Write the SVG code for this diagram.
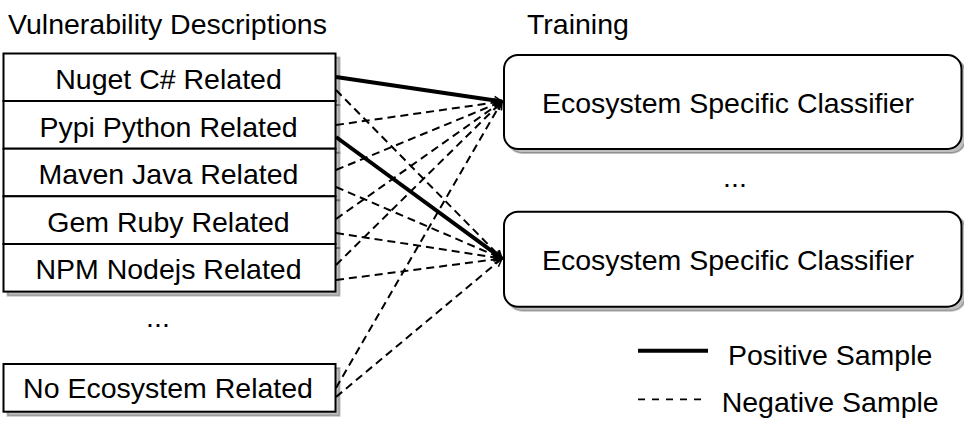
<svg xmlns="http://www.w3.org/2000/svg" width="964" height="426" viewBox="0 0 964 426">
<defs>
<marker id="arr" markerUnits="userSpaceOnUse" markerWidth="12" markerHeight="12" viewBox="-10 -6 12 12" refX="0" refY="0" orient="auto">
<path d="M-8,-4 L0,0 L-8,4" fill="none" stroke="#000" stroke-width="1.6"/>
</marker>
</defs>
<style>
text{font-family:"Liberation Sans",Arial,Helvetica,sans-serif;font-size:28.5px;fill:#000}
.c{text-anchor:middle}
.box{fill:#fff;stroke:#000;stroke-width:2}
.sh{fill:#000;fill-opacity:.25;stroke:#000;stroke-opacity:.25;stroke-width:2}
.pos{stroke:#000;stroke-width:4;fill:none}
.neg{stroke:#000;stroke-width:2;stroke-dasharray:8 5;fill:none}
</style>
<rect width="964" height="426" fill="#fff"/>
<text x="8" y="33.5">Vulnerability Descriptions</text>
<text x="527" y="33.5">Training</text>
<g id="shadows">
<rect class="sh" x="7.5" y="57.5" width="332" height="47.5"/>
<rect class="sh" x="7.5" y="105" width="332" height="47.7"/>
<rect class="sh" x="7.5" y="152.7" width="332" height="47.6"/>
<rect class="sh" x="7.5" y="200.3" width="332" height="47.7"/>
<rect class="sh" x="7.5" y="248" width="332" height="47.6"/>
<rect class="sh" x="7.5" y="368" width="332" height="47.7"/>
<rect class="sh" x="508" y="59" width="457.5" height="94" rx="14"/>
<rect class="sh" x="508" y="215.7" width="457.5" height="95" rx="14"/>
</g>
<g id="nuget"><rect class="box" x="3.5" y="53.5" width="332" height="47.5"/><text class="c" x="168.5" y="89.3">Nuget C# Related</text></g>
<g id="pypi"><rect class="box" x="3.5" y="101" width="332" height="47.7"/><text class="c" x="168.5" y="136.7">Pypi Python Related</text></g>
<g id="maven"><rect class="box" x="3.5" y="148.7" width="332" height="47.6"/><text class="c" x="168.5" y="184">Maven Java Related</text></g>
<g id="gem"><rect class="box" x="3.5" y="196.3" width="332" height="47.7"/><text class="c" x="168.5" y="231.7">Gem Ruby Related</text></g>
<g id="npm"><rect class="box" x="3.5" y="244" width="332" height="47.6"/><text class="c" x="168.5" y="279.3">NPM Nodejs Related</text></g>
<text class="c" x="158" y="327">...</text>
<g id="noeco"><rect class="box" x="3.5" y="364" width="332" height="47.7"/><text class="c" x="168" y="398.3">No Ecosystem Related</text></g>
<g id="clf1"><rect class="box" x="504" y="55" width="457.5" height="94" rx="14"/><text class="c" x="728" y="112.7">Ecosystem Specific Classifier</text></g>
<text class="c" x="735" y="187">...</text>
<g id="clf2"><rect class="box" x="504" y="211.7" width="457.5" height="95" rx="14"/><text class="c" x="728" y="269.5">Ecosystem Specific Classifier</text></g>
<g id="connectors">
<line class="pos" x1="336" y1="77" x2="502" y2="101.5" marker-end="url(#arr)"/>
<line class="neg" x1="336" y1="90" x2="502" y2="258.5" marker-end="url(#arr)"/>
<line class="neg" x1="336" y1="125" x2="502" y2="101.5" marker-end="url(#arr)"/>
<line class="pos" x1="336" y1="137" x2="502" y2="258.5" marker-end="url(#arr)"/>
<line class="neg" x1="336" y1="170" x2="502" y2="101.5" marker-end="url(#arr)"/>
<line class="neg" x1="336" y1="187" x2="502" y2="258.5" marker-end="url(#arr)"/>
<line class="neg" x1="336" y1="219" x2="502" y2="101.5" marker-end="url(#arr)"/>
<line class="neg" x1="336" y1="233" x2="502" y2="258.5" marker-end="url(#arr)"/>
<line class="neg" x1="336" y1="265" x2="502" y2="101.5" marker-end="url(#arr)"/>
<line class="neg" x1="336" y1="280" x2="502" y2="258.5" marker-end="url(#arr)"/>
<line class="neg" x1="336" y1="388" x2="502" y2="101.5" marker-end="url(#arr)"/>
<line class="neg" x1="336" y1="397" x2="502" y2="258.5" marker-end="url(#arr)"/>
</g>
<g id="legend">
<line x1="638" y1="350.8" x2="708" y2="350.8" stroke="#000" stroke-width="4"/>
<text x="728" y="365">Positive Sample</text>
<line x1="638" y1="399.3" x2="703" y2="399.3" stroke="#000" stroke-width="1.7" stroke-dasharray="7 7"/>
<text x="721.7" y="411.7">Negative Sample</text>
</g>
</svg>
